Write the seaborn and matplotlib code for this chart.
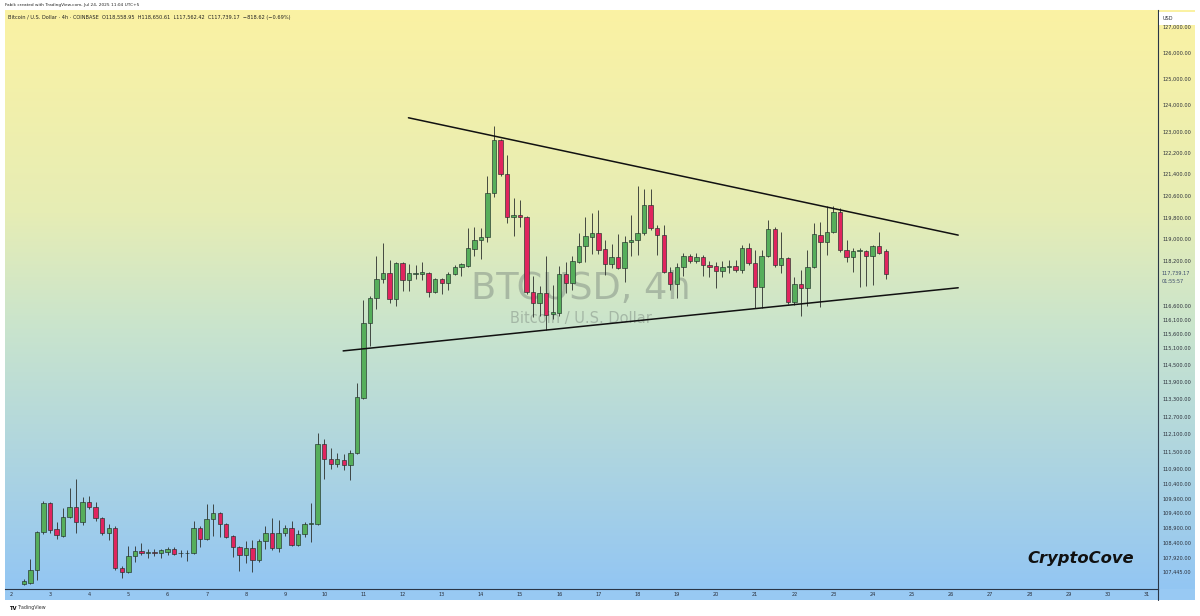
import numpy as np
import pandas as pd
import matplotlib
matplotlib.use("Agg")
import matplotlib.pyplot as plt
import matplotlib.ticker as mticker
from matplotlib.colors import LinearSegmentedColormap
from matplotlib.patches import Rectangle
from matplotlib.lines import Line2D
import seaborn as sns

# ---------------- data (BTC/USD 4h, Coinbase) ----------------
start_index = 2  # first candle is the 3rd 4h bar of July 2
opens = [107050, 107080, 107510, 108770, 109750, 108870, 108640, 109280, 109610, 109110,
         109780, 109610, 109240, 108740, 108910, 107580, 107450, 107980, 108140, 108070,
         108110, 108080, 108120, 108210, 108070, 108060, 108080, 108910, 108540, 109210,
         109410, 109040, 108640, 108270, 108010, 108240, 107840, 108470, 108740, 108240,
         108740, 108910, 108340, 108710, 109040, 109040, 111750, 111240, 111070, 111200,
         111030, 111440, 113340, 115980, 116870, 117560, 117770, 116840, 118140, 117520,
         117750, 117740, 117770, 117090, 117560, 117410, 117740, 117990, 118030, 118640,
         118970, 119080, 120700, 122680, 121410, 119810, 119870, 119810, 117090, 116690,
         117050, 116300, 116340, 117740, 117410, 118170, 118750, 119080, 119230, 118640,
         118100, 118350, 117950, 118900, 118970, 119230, 120260, 119410, 119150, 117810,
         117380, 117990, 118390, 118210, 118350, 118060, 118030, 117850, 117990, 118030,
         117880, 118680, 118140, 117270, 118390, 119370, 118060, 118320, 116730, 117380,
         117230, 117990, 119150, 118900, 119260, 120000, 118610, 118350, 118570, 118570,
         118390, 118750, 118558.95]
highs = [107220, 107880, 108810, 109810, 109780, 109110, 109580, 110250, 110560, 109950,
         109980, 109780, 109280, 109040, 108970, 107640, 108310, 108310, 108410, 108210,
         108210, 108210, 108270, 108270, 108170, 108170, 109140, 108970, 109710, 109710,
         109440, 109070, 108670, 108310, 108470, 108510, 108540, 108970, 109240, 109180,
         109010, 109140, 108840, 109110, 109750, 112130, 111920, 111610, 111440, 111410,
         111550, 113860, 116800, 116950, 118390, 118860, 118240, 118170, 118170, 118100,
         118060, 118170, 117810, 117580, 117590, 117810, 118060, 118140, 119410, 119450,
         119410, 121330, 123210, 122720, 122120, 120520, 120440, 119850, 117670, 117300,
         118390, 117340, 118030, 118170, 118390, 119230, 119810, 119960, 120070, 118970,
         118830, 119190, 119120, 119890, 120960, 120850, 120850, 119520, 119520, 117990,
         118140, 118500, 118460, 118500, 118430, 118210, 118170, 118210, 118240, 118240,
         118790, 118860, 118610, 118610, 119700, 119450, 119260, 118350, 117630, 117880,
         118610, 119590, 119630, 120220, 120220, 120150, 118970, 118680, 118680, 118610,
         118790, 119260, 118650.61]
lows = [107020, 107050, 107180, 108710, 108740, 108540, 108610, 109240, 108740, 109010,
        109540, 109140, 108670, 108510, 107510, 107250, 107410, 107780, 108010, 107910,
        107980, 107910, 108010, 108010, 107940, 107810, 108040, 108270, 108510, 108640,
        108610, 108570, 107940, 107480, 107740, 107450, 107780, 108210, 108170, 108110,
        108640, 108310, 108310, 108610, 108440, 109010, 110560, 110900, 110970, 110860,
        110520, 111410, 113300, 115160, 116480, 117410, 116690, 116590, 117120, 117120,
        117560, 117520, 116910, 117050, 117020, 117160, 117700, 117670, 117990, 118390,
        118280, 118900, 120550, 121330, 119590, 119120, 119450, 117020, 116190, 116230,
        115730, 116120, 116230, 117050, 117160, 118140, 118170, 118460, 118460, 117700,
        117950, 117920, 117450, 118390, 118430, 119150, 119340, 118430, 117770, 117160,
        116870, 117670, 118140, 118140, 117670, 117630, 117230, 117630, 117770, 117810,
        117770, 118060, 116520, 116520, 118350, 117990, 117770, 116660, 116620, 116230,
        116590, 117950, 116550, 118430, 119230, 118530, 118170, 117810, 117270, 117300,
        117340, 118460, 117562.42]
closes = [107150, 107510, 108770, 109750, 108840, 108670, 109280, 109610, 109110, 109780,
          109610, 109240, 108740, 108910, 107580, 107450, 107980, 108140, 108070, 108110,
          108090, 108160, 108210, 108040, 108060, 108080, 108910, 108540, 109210, 109410,
          109040, 108610, 108270, 108010, 108240, 107840, 108470, 108740, 108240, 108740,
          108910, 108340, 108710, 109040, 109060, 111750, 111240, 111070, 111240, 111030,
          111440, 113380, 115980, 116870, 117560, 117770, 116840, 118140, 117520, 117770,
          117770, 117810, 117090, 117560, 117410, 117740, 117990, 118100, 118680, 118970,
          119080, 120700, 122680, 121410, 119810, 119870, 119810, 117090, 116690, 117050,
          116260, 116370, 117740, 117410, 118210, 118750, 119120, 119230, 118610, 118100,
          118350, 117950, 118900, 118970, 119230, 120260, 119410, 119150, 117810, 117380,
          117990, 118390, 118210, 118350, 118060, 117990, 117850, 117990, 118030, 117880,
          118680, 118140, 117270, 118390, 119370, 118060, 118320, 116730, 117380, 117230,
          117990, 119190, 118900, 119260, 120000, 118610, 118350, 118570, 118590, 118390,
          118750, 118500, 117739.17]

day_labels = [str(d) for d in range(2, 32)]
price_ticks = [127000, 126000, 125000, 124000, 123000, 122200, 121400, 120600, 119800,
               119000, 118200, 116600, 116100, 115600, 115100, 114500, 113900, 113300,
               112700, 112100, 111500, 110900, 110400, 109900, 109400, 108900, 108400,
               107920, 107445]

# triangle trendlines (bar index, price)
upper_line_x = [60.9, 145.1]
upper_line_y = [123520, 119150]
lower_line_x = [50.9, 145.1]
lower_line_y = [114990, 117240]

# ---------------- styling ----------------
sns.set_theme(style="white")
plt.rcParams["font.family"] = ["DejaVu Sans"]

W, H = 1200, 616
fig = plt.figure(figsize=(W / 100, H / 100), dpi=100)
fig.patch.set_facecolor("white")

def fx(px):
    return px / W

def fy(py):
    return 1 - py / H

GREEN = "#56ae5b"
RED = "#e0245e"
EDGE = "#22302a"

# background gradient
bg = fig.add_axes([fx(5), fy(589), fx(1195 - 5), (589 - 10) / H], zorder=-5)
cmap = LinearSegmentedColormap.from_list(
    "tvbg", [(0.0, "#fbf2a3"), (0.35, "#e6edb5"), (0.55, "#c9e4cd"), (1.0, "#93c6f3")])
grad = np.linspace(0, 1, 256).reshape(-1, 1)
bg.imshow(grad, aspect="auto", cmap=cmap, extent=[0, 1, 0, 1], origin="upper")
bg.set_axis_off()

# watermark behind candles
bg.text(fx(581), fy(289), "BTCUSD, 4h", transform=fig.transFigure, ha="center", va="center",
        fontsize=26.5, color="#7f8c82", alpha=0.5)
bg.text(fx(581), fy(318), "Bitcoin / U.S. Dollar", transform=fig.transFigure, ha="center",
        va="center", fontsize=10.5, color="#7f8c82", alpha=0.5)

# bottom time-axis strip
fig.patches.append(Rectangle((fx(5), fy(600)), fx(1190), (600 - 589) / H,
                             transform=fig.transFigure, facecolor="#98c9f3",
                             edgecolor="none", zorder=-4))

# main axes
ax = fig.add_axes([fx(5), fy(589), fx(1158 - 5), (589 - 10) / H], zorder=1)
ax.patch.set_alpha(0)
ax.set_yscale("log")

n = len(opens)
idx = np.arange(start_index, start_index + n)
o = np.array(opens, dtype=float)
h = np.array(highs, dtype=float)
l = np.array(lows, dtype=float)
c = np.array(closes, dtype=float)
up = c >= o
cols = np.where(up, GREEN, RED)
bottoms = np.minimum(o, c)
heights = np.maximum(np.abs(c - o), 14)

ax.vlines(idx, l, h, color="#2c2f2c", linewidth=0.6, zorder=2)
ax.bar(idx, heights, bottom=bottoms, width=0.68, color=cols, edgecolor=EDGE,
       linewidth=0.45, zorder=3)

lines = pd.DataFrame({"x": upper_line_x + lower_line_x,
                      "y": upper_line_y + lower_line_y,
                      "line": ["upper", "upper", "lower", "lower"]})
sns.lineplot(data=lines, x="x", y="y", units="line", estimator=None, color="#111111",
             linewidth=1.1, ax=ax, zorder=4, legend=False)

ax.set_xlim(-0.89, 175.7)
ax.set_ylim(106886, 127674)
ax.set_xlabel("")
ax.set_ylabel("")

ax.set_xticks([(d - 2) * 6 for d in range(2, 32)])
ax.set_xticklabels(day_labels)
ax.yaxis.tick_right()
ax.yaxis.set_minor_locator(mticker.NullLocator())
ax.yaxis.set_minor_formatter(mticker.NullFormatter())
ax.set_yticks(price_ticks)
ax.set_yticklabels([f"{v:,.2f}" for v in price_ticks])
ax.tick_params(axis="x", length=0, pad=2.2, labelsize=3.6, colors="#2a2e39")
ax.tick_params(axis="y", length=0, pad=3.5, labelsize=3.6, colors="#2a2e39")
for s in ["top", "left"]:
    ax.spines[s].set_visible(False)
for s in ["right", "bottom"]:
    ax.spines[s].set_color("#2a3546")
    ax.spines[s].set_linewidth(0.8)
ax.grid(False)

# axis line extension through the time strip
fig.lines.append(Line2D([fx(1158), fx(1158)], [fy(589), fy(600)], transform=fig.transFigure,
                        color="#2a3546", linewidth=0.8))

# USD box and last price label
fig.patches.append(Rectangle((fx(1159), fy(25)), fx(36), 13 / H, transform=fig.transFigure,
                             facecolor="white", edgecolor="none", zorder=5))
fig.text(fx(1163), fy(19), "USD", fontsize=3.6, color="#2a2e39", va="center", zorder=6)
fig.text(fx(1162), fy(273), "117,739.17", fontsize=3.6, color="#3a4a6a", va="center")
fig.text(fx(1162), fy(281), "01:55:57", fontsize=3.6, color="#3a4a6a", va="center")

# header texts
fig.text(fx(5), fy(5), "Fabik created with TradingView.com, Jul 24, 2025 11:04 UTC+5",
         fontsize=3.1, color="#222222", va="center")
fig.text(fx(8), fy(18),
         "Bitcoin / U.S. Dollar · 4h · COINBASE  O118,558.95  H118,650.61  L117,562.42  "
         "C117,739.17  −818.62 (−0.69%)",
         fontsize=3.6, color="#222222", va="center")

# branding
fig.text(fx(1081), fy(558), "CryptoCove", fontsize=11.8, fontweight="bold", style="italic",
         color="#111111", ha="center", va="center")
fig.text(fx(9), fy(608), "TV", fontsize=3.8, fontweight="bold", color="#111111", va="center")
fig.text(fx(18), fy(608), "TradingView", fontsize=3.4, color="#333333", va="center")

fig.savefig("out.png", dpi=100)
